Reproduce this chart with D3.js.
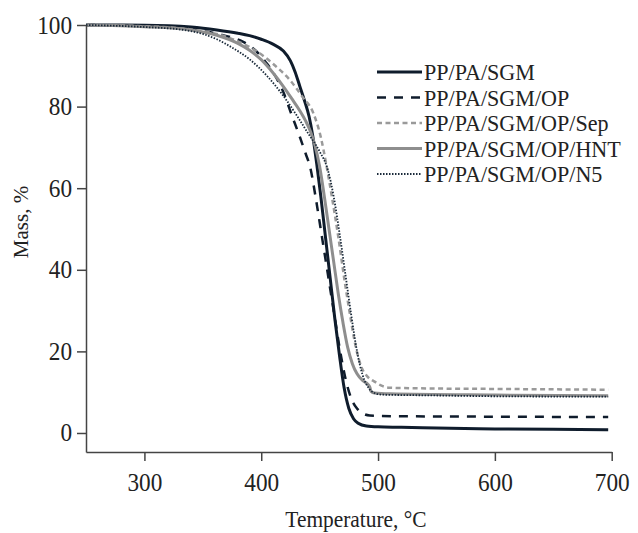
<!DOCTYPE html>
<html>
<head>
<meta charset="utf-8">
<script src="https://cdn.jsdelivr.net/npm/d3@7"></script>
<style>
  html, body { margin: 0; padding: 0; background: #fff; }
  svg { display: block; }
  text { font-family: "Liberation Serif", "Times New Roman", serif; fill: #222; }
</style>
</head>
<body>
<div id="chart"></div>
<script>
// ---- data ----
const seriesNames = ["PP/PA/SGM", "PP/PA/SGM/OP", "PP/PA/SGM/OP/Sep", "PP/PA/SGM/OP/HNT", "PP/PA/SGM/OP/N5"];

const sgm = [[250,100],[300,99.95],[340,99.5],[362,98.8],[380,98],[390,97.4],[400,96.5],[410,95.3],[419,93.6],[425,91.2],[429,88.5],[433,85],[437,81.5],[441,77.5],[444,73],[447.5,66],[451,58],[455,48],[459,38],[463,28],[467,19],[471,11],[475,6],[479,3.5],[483,2.4],[490,1.7],[500,1.5],[520,1.4],[550,1.2],[600,1.0],[650,0.9],[697,0.8]];
const op = [[250,100],[300,99.8],[340,99],[367,97.5],[385,95.8],[396,93.5],[405,90.5],[412,87.5],[419,83.5],[426,78],[433,72.6],[438,68.5],[442,65],[447,57],[452,48],[457,39],[462,30],[467,21],[472,13.5],[477,8.5],[482,6],[487,4.8],[493,4.3],[520,4.1],[600,4.0],[697,3.9]];
const sep = [[250,100],[300,99.7],[350,98.5],[380,96],[399,93],[412,90],[424.6,86.5],[435,82.5],[444.6,78.4],[451,72.5],[456,65.3],[461,57],[466,48],[471,38],[476,29],[481,21],[486,16],[491,13.8],[497,12.6],[503,11.6],[510,11.1],[550,10.9],[600,10.8],[697,10.6]];
const hnt = [[250,100],[300,99.6],[340,98.8],[362,97.5],[380,95.5],[390,93.8],[400,91.5],[410,88.3],[419,84.9],[426,82],[433,79],[438,76.5],[442,74],[446,70.5],[450,65.3],[454,58],[458,50],[462,42],[466,34],[470,27],[474,21],[478,17],[482,14.5],[487,12.8],[491,12],[493,11.2],[494,10.2],[497,9.8],[510,9.6],[600,9.3],[697,9.1]];
const n5 = [[250,100],[300,99.5],[333,98.8],[350,97.8],[362,96.5],[376,94.3],[390,91.6],[405,87.5],[419,82.6],[430,78],[440,73.5],[450,69],[457,64.5],[462,58],[467,49],[472,39],[477,29],[482,20],[487,14],[492,11],[497,9.8],[503,9.4],[550,9.2],[600,9.0],[697,8.9]];

const xTicks = [300, 400, 500, 600, 700];
const yTicks = [0, 20, 40, 60, 80, 100];

// ---- styles ----
const styles = [
  { color: "#0f1c2c", width: 3,   dash: null },
  { color: "#0f1c2c", width: 2.5, dash: "9,8" },
  { color: "#9a9a9a", width: 2.5, dash: "5,3.5" },
  { color: "#8e8e8e", width: 3,   dash: null },
  { color: "#1a2a3a", width: 1.8, dash: "1.5,1.5" }
];
const allData = [sgm, op, sep, hnt, n5];

const W = 638, H = 533;
const svg = d3.select("#chart").append("svg").attr("width", W).attr("height", H);

const x = d3.scaleLinear().domain([250, 700]).range([86, 611.7]);
const y = d3.scaleLinear().domain([-4.66, 100]).range([452, 25]);

const line = d3.line().x(d => x(d[0])).y(d => y(d[1])).curve(d3.curveMonotoneX);

// narrow the serif glyphs a little, as in the reference
function condense(sel, k) {
  sel.each(function() {
    const w = this.getComputedTextLength();
    d3.select(this).attr("textLength", w * k).attr("lengthAdjust", "spacingAndGlyphs");
  });
}

// curves
allData.forEach((data, i) => {
  const s = styles[i];
  svg.append("path")
    .datum(data)
    .attr("d", line)
    .attr("fill", "none")
    .attr("stroke", s.color)
    .attr("stroke-width", s.width)
    .attr("stroke-dasharray", s.dash)
    .attr("stroke-linejoin", "round");
});

// axes
const axisColor = "#444";
const xAxis = svg.append("g").attr("transform", `translate(0,${452})`)
  .call(d3.axisBottom(x).tickValues(xTicks).tickFormat(d3.format("d")).tickSize(9).tickSizeOuter(0).tickPadding(12));
const yAxis = svg.append("g").attr("transform", `translate(${86},0)`)
  .call(d3.axisLeft(y).tickValues(yTicks).tickFormat(d3.format("d")).tickSize(9).tickSizeOuter(0).tickPadding(5));

[xAxis, yAxis].forEach(g => {
  g.select(".domain").attr("stroke", axisColor).attr("stroke-width", 1.5);
  g.selectAll(".tick line").attr("stroke", axisColor).attr("stroke-width", 1.5);
  g.selectAll(".tick text").attr("font-size", 25).attr("fill", "#222")
    .attr("font-family", "Liberation Serif, Times New Roman, serif")
    .call(condense, 0.93);
});

// axis titles
svg.append("text")
  .attr("x", 356).attr("y", 527)
  .attr("text-anchor", "middle")
  .attr("font-size", 23)
  .text("Temperature, °C")
  .call(condense, 0.93);

svg.append("text")
  .attr("transform", "translate(28,222) rotate(-90)")
  .attr("text-anchor", "middle")
  .attr("font-size", 21)
  .text("Mass, %");

// legend
const legendY = [72, 97.5, 123, 148.5, 174];
const legend = svg.append("g");
seriesNames.forEach((name, i) => {
  const s = styles[i];
  legend.append("line")
    .attr("x1", 377).attr("x2", 422)
    .attr("y1", legendY[i]).attr("y2", legendY[i])
    .attr("stroke", s.color)
    .attr("stroke-width", s.width)
    .attr("stroke-dasharray", s.dash);
  legend.append("text")
    .attr("x", 424).attr("y", legendY[i] + 8)
    .attr("font-size", 24)
    .text(name)
    .call(condense, 0.92);
});
</script>
</body>
</html>
